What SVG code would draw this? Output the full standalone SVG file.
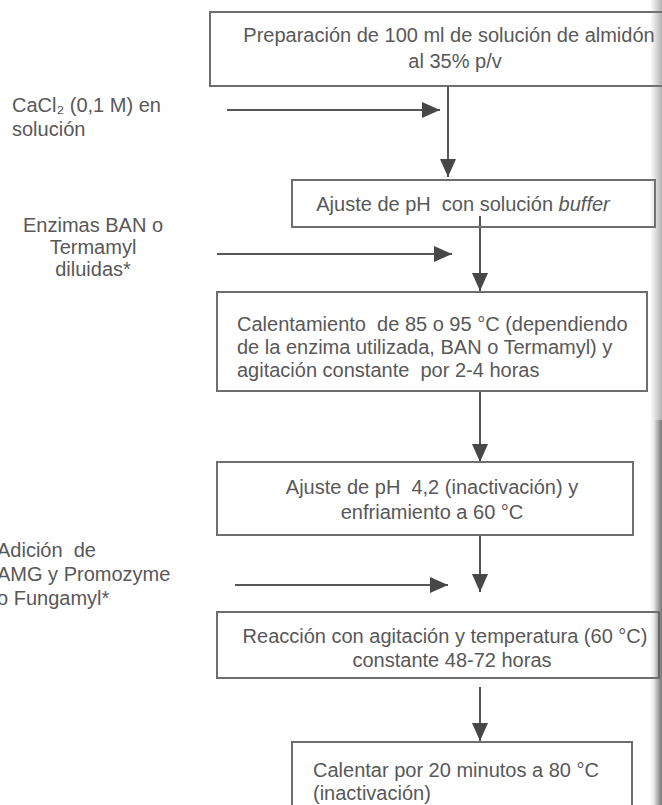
<svg xmlns="http://www.w3.org/2000/svg" width="662" height="805" viewBox="0 0 662 805">
  <style>
    .box { fill: #ffffff; stroke: #6e6e6e; stroke-width: 2; }
    .t { font-family: "Liberation Sans", Arial, sans-serif; font-size: 20px; fill: #585858; white-space: pre; }
    .c { text-anchor: middle; }
    .ln { stroke: #575757; stroke-width: 2; fill: none; marker-end: url(#ah); }
  </style>
  <defs>
    <marker id="ah" viewBox="0 0 18 16" refX="18" refY="8" markerWidth="18" markerHeight="16" markerUnits="userSpaceOnUse" orient="auto">
      <path d="M0,0 L18,8 L0,16 Z" fill="#474747"/>
    </marker>
    <linearGradient id="edge" x1="0" y1="0" x2="1" y2="0">
      <stop offset="0" stop-color="#808080" stop-opacity="0"/>
      <stop offset="1" stop-color="#707070" stop-opacity="0.55"/>
    </linearGradient>
    <linearGradient id="edge2" x1="0" y1="0" x2="1" y2="0">
      <stop offset="0" stop-color="#606060" stop-opacity="0"/>
      <stop offset="1" stop-color="#505050" stop-opacity="0.6"/>
    </linearGradient>
  </defs>
  <rect x="0" y="0" width="662" height="805" fill="#ffffff"/>

  <g id="inputs">
    <text class="t" x="12" y="112">CaCl₂ (0,1 M) en</text>
    <text class="t" x="12" y="136">solución</text>
    <text class="t c" x="93" y="232">Enzimas BAN o</text>
    <text class="t c" x="93" y="254">Termamyl</text>
    <text class="t c" x="93" y="276">diluidas*</text>
    <text class="t" x="-3" y="557">Adición  de</text>
    <text class="t" x="-3" y="581">AMG y Promozyme</text>
    <text class="t" x="-3" y="605">o Fungamyl*</text>
  </g>

  <g id="connectors">
    <line class="ln" x1="227" y1="110" x2="440" y2="110"/>
    <line class="ln" x1="448" y1="86" x2="448" y2="177"/>
    <line class="ln" x1="480" y1="216" x2="480" y2="291"/>
    <line class="ln" x1="217" y1="254" x2="452" y2="254"/>
    <line class="ln" x1="480" y1="391" x2="480" y2="462"/>
    <line class="ln" x1="480" y1="535" x2="480" y2="592"/>
    <line class="ln" x1="235" y1="585" x2="448" y2="585"/>
    <line class="ln" x1="480" y1="687" x2="480" y2="741"/>
  </g>

  <g id="n1">
    <rect class="box" x="210" y="12" width="470" height="74"/>
    <text class="t c" x="449" y="42">Preparación de 100 ml de solución de almidón</text>
    <text class="t c" x="455" y="68">al 35% p/v</text>
  </g>

  <g id="n2">
    <rect class="box" x="292" y="180" width="363" height="47" fill-opacity="0"/>
    <text class="t c" x="463" y="211">Ajuste de pH  con solución <tspan font-style="italic">buffer</tspan></text>
  </g>

  <g id="n3">
    <rect class="box" x="217" y="292" width="430" height="99"/>
    <text class="t" x="237" y="331">Calentamiento  de 85 o 95 °C (dependiendo</text>
    <text class="t" x="237" y="354">de la enzima utilizada, BAN o Termamyl) y</text>
    <text class="t" x="237" y="377">agitación constante  por 2-4 horas</text>
  </g>

  <g id="n4">
    <rect class="box" x="217" y="462" width="416" height="73"/>
    <text class="t c" x="432" y="494">Ajuste de pH  4,2 (inactivación) y</text>
    <text class="t c" x="432" y="519">enfriamiento a 60 °C</text>
  </g>

  <g id="n5">
    <rect class="box" x="217" y="612" width="442" height="66"/>
    <text class="t c" x="445" y="643">Reacción con agitación y temperatura (60 °C)</text>
    <text class="t c" x="452" y="667">constante 48-72 horas</text>
  </g>

  <g id="n6">
    <rect class="box" x="292" y="742" width="340" height="80"/>
    <text class="t" x="313" y="777">Calentar por 20 minutos a 80 °C</text>
    <text class="t" x="313" y="800">(inactivación)</text>
  </g>

  <rect x="650" y="0" width="12" height="805" fill="url(#edge)"/>
  <rect x="654" y="420" width="8" height="385" fill="url(#edge2)"/>
</svg>
